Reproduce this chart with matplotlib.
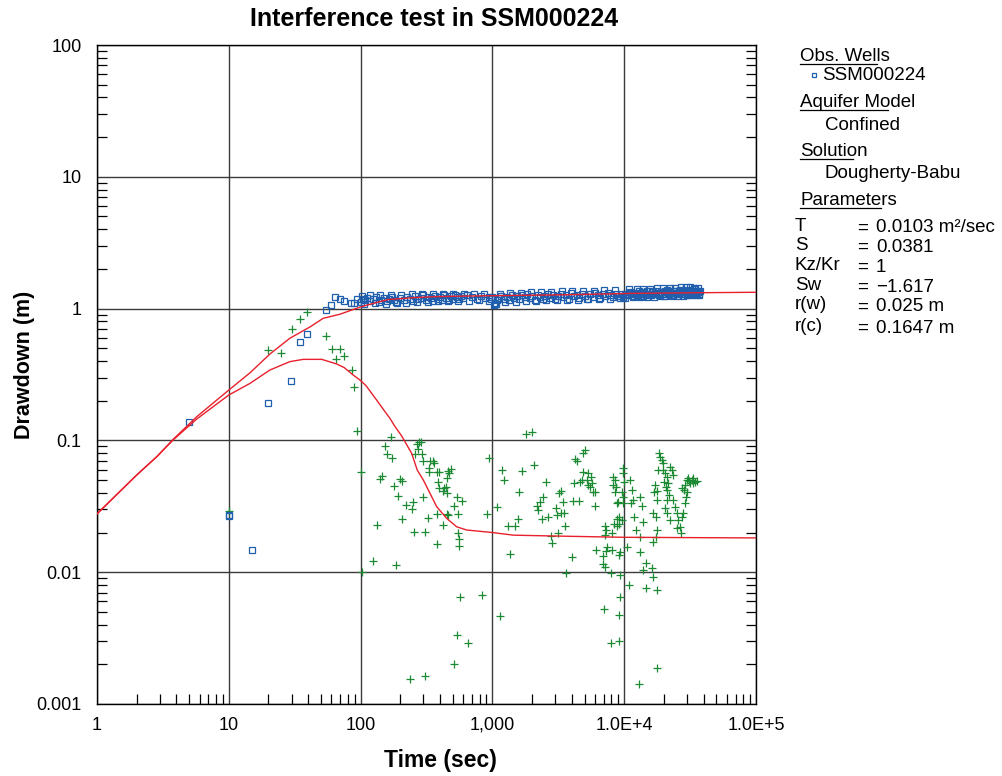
import matplotlib
matplotlib.use("Agg")
import matplotlib.pyplot as plt
from matplotlib.ticker import FixedLocator, FixedFormatter, LogLocator, NullFormatter
from matplotlib.lines import Line2D

plt.rcParams['font.family'] = ['Liberation Sans', 'DejaVu Sans']

# ---------------- data ----------------
x_ticks = [1, 10, 100, 1000, 1e4, 1e5]
x_tick_labels = ['1', '10', '100', '1,000', '1.0E+4', '1.0E+5']
y_ticks = [0.001, 0.01, 0.1, 1, 10, 100]
y_tick_labels = ['0.001', '0.01', '0.1', '1', '10', '100']

# observed drawdown (blue squares)
blue_t = [5.0, 10, 10, 14.9, 19.7, 29.8, 34.5, 39.2, 54.6, 59.6, 64.3, 69.4, 74.8, 84, 89, 94.4,
          100, 104, 108, 112, 118, 124, 130, 137, 144, 151, 158,
          165, 172, 180, 190, 200, 212, 224, 236, 248, 260, 272, 285, 298, 312, 326, 340, 355,
          370, 385, 400, 416, 432, 448, 465, 482, 500, 520, 540, 560, 580, 600, 640, 700, 760,
          820, 880, 940, 975,
          1000, 1050, 1080, 1120, 1170, 1220, 1280, 1340, 1400, 1460, 1530, 1600, 1680, 1760,
          1840, 1920, 2000, 2100, 2200, 2300, 2400, 2500, 2620, 2740, 2860, 3000, 3150, 3300,
          3450, 3600, 3780, 3950, 4150, 4350, 4550, 4750, 5000, 5250, 5500, 5750, 6000, 6300,
          6600, 6900, 7200, 7550, 7900, 8250, 8600, 9000, 9400, 9800,
          10200, 10600, 11000, 11400, 11800, 12200, 12600, 13000, 13400, 13800, 14200, 14600,
          15000, 15500, 16000, 16500, 17000, 17500, 18000, 18500, 19000, 19500, 20000, 20600,
          21200, 21800, 22400, 23000, 23600, 24200, 24800, 25400, 26000, 26600, 27200, 27800,
          28400, 29000, 29600, 30200, 30800, 31400, 32000, 32600, 33200, 33800, 34400, 35000,
          35600, 36200, 36800, 37400,
          10400, 11200, 12000, 12800, 13600, 14400, 15200, 16200, 17200, 18200, 19200, 20300,
          21500, 22700, 23900, 25100, 26300, 27500, 28700, 29900, 31100, 32300, 33500, 34700,
          35900, 37100,
          102, 107, 117, 128, 140, 155, 170, 186, 203, 222, 244, 268, 294, 322, 352, 386, 422,
          462, 505, 553, 605, 660, 725, 790, 865, 950,
          1030, 1060, 1150, 1250, 1370, 1500, 1640, 1800, 1970, 2150, 2350, 2570, 2800, 3070,
          3370, 3700, 4050, 4450, 4880, 5350, 5870, 6450, 7070, 7750, 8500, 9300,
          10100, 10800, 11600, 12400, 13200, 14000, 14800, 15700, 16700, 17700, 18700, 19700,
          20900, 22100, 23300, 24500, 25700, 26900, 28100, 29300, 30500, 31700, 32900, 34100,
          35300, 36500, 37000]
blue_d = [0.138, 0.0265, 0.027, 0.0148, 0.191, 0.282, 0.555, 0.641, 0.975, 1.065, 1.22, 1.19,
          1.148, 1.11, 1.11, 1.19,
          1.13, 1.19, 1.16, 1.21, 1.14, 1.18, 1.22, 1.12, 1.17, 1.20, 1.14,
          1.19, 1.23, 1.16, 1.11, 1.20, 1.17, 1.22, 1.19, 1.14, 1.24, 1.18, 1.21, 1.26, 1.17,
          1.23, 1.20, 1.15, 1.25, 1.19, 1.22, 1.17, 1.27, 1.21, 1.16, 1.24, 1.19, 1.26, 1.22,
          1.18, 1.25, 1.20, 1.26, 1.22, 1.18,
          1.24, 1.21, 1.23, 1.19,
          1.23, 1.10, 1.16, 1.21, 1.25, 1.19, 1.23, 1.17, 1.27, 1.21, 1.24, 1.18, 1.26, 1.22,
          1.29, 1.20, 1.24, 1.17, 1.27, 1.22, 1.19, 1.25, 1.30, 1.21, 1.26, 1.18, 1.24, 1.28,
          1.22, 1.26, 1.19, 1.31, 1.24, 1.27, 1.21, 1.29, 1.25, 1.18, 1.28, 1.23, 1.31, 1.26,
          1.20, 1.29, 1.24, 1.32, 1.27, 1.22, 1.30, 1.25, 1.28, 1.23,
          1.30, 1.26, 1.33, 1.28, 1.24, 1.31, 1.27, 1.35, 1.29, 1.25, 1.32, 1.28,
          1.36, 1.30, 1.26, 1.33, 1.29, 1.37, 1.31, 1.27, 1.34, 1.30, 1.25, 1.33,
          1.38, 1.29, 1.35, 1.31, 1.27, 1.36, 1.32, 1.28, 1.37, 1.33, 1.29, 1.39,
          1.34, 1.30, 1.36, 1.32, 1.28, 1.38, 1.34, 1.30, 1.36, 1.32, 1.40, 1.35,
          1.31, 1.37, 1.33, 1.36,
          1.27, 1.32, 1.29, 1.25, 1.34, 1.30, 1.27, 1.35, 1.31, 1.28, 1.33, 1.36,
          1.30, 1.26, 1.35, 1.31, 1.38, 1.29, 1.34, 1.27, 1.37, 1.32, 1.29, 1.36,
          1.33, 1.30,
          1.25, 1.09, 1.27, 1.10, 1.26, 1.09, 1.27, 1.12, 1.27, 1.10, 1.28, 1.12, 1.29, 1.13,
          1.29, 1.14, 1.30, 1.14, 1.30, 1.15, 1.29, 1.15, 1.30, 1.16, 1.29, 1.15,
          1.07, 1.09, 1.30, 1.12, 1.31, 1.13, 1.32, 1.14, 1.33, 1.15, 1.33, 1.16, 1.34, 1.16,
          1.35, 1.17, 1.36, 1.17, 1.37, 1.18, 1.37, 1.19, 1.38, 1.19, 1.38, 1.20,
          1.21, 1.40, 1.22, 1.41, 1.22, 1.42, 1.23, 1.42, 1.23, 1.43, 1.24, 1.43,
          1.24, 1.44, 1.25, 1.44, 1.25, 1.45, 1.25, 1.45, 1.26, 1.45, 1.26, 1.44,
          1.27, 1.43, 1.27]

# derivative data (green pluses)
green_t = [39.4, 34.7, 30, 19.7, 25, 55, 60.7, 69.5, 64.7, 74.8, 85.6, 89.6, 94, 100.7, 103, 10.1,
           152, 158, 141, 145, 133, 125,
           171, 174, 180, 199, 206, 193, 185, 207, 220, 245, 250, 256, 299, 308, 325,
           267, 276, 286, 271, 259, 291, 296,
           336, 352, 363, 332, 332, 378, 395,
           389, 396, 430, 442, 455, 424,
           450, 471, 485, 463,
           382, 420, 463, 455,
           536, 585, 514, 551,
           551, 561, 558, 382,
           905, 948, 568, 834, 536, 656, 511, 237, 308,
           1079, 1177, 1232, 1667, 1600, 1556, 1320, 1492, 1367, 1142,
           1790, 2010, 2069, 2535, 2405, 2296, 2168, 2206, 2366, 2628, 2773, 2834, 3164,
           3200, 3334, 3415, 3494, 3300, 3076, 3040, 3555, 4040, 3597,
           4110, 4563, 4181, 4620, 4810, 4410, 4233, 5040, 4843,
           4895, 5342, 5568, 5342, 5665, 5500, 5830, 6000, 5250, 6000,
           6110, 6870, 7370, 7280, 8040, 6950, 7150, 7900,
           7150, 7240, 7150, 8040, 8370, 8870, 9190, 9580, 8770, 9190,
           8280, 8510, 8180, 8670, 8770, 9020, 8570,
           9190, 9340, 9340, 9290, 9190, 9190, 7900, 7060,
           9730, 9840, 9960, 9570, 9730, 9840,
           11070, 11400, 11200, 11720, 11870, 12280, 13180, 13570, 13970, 13180, 10560, 10940,
           13180, 14640, 13970, 14640, 13030, 17830,
           16440, 17420, 17820, 16440, 16170, 16440, 17830,
           17130, 17650, 16830, 17650, 17420, 18150, 18460, 18700, 19270, 19820, 19820, 20400,
           21000, 20050, 20760, 21620, 22250, 22930, 23580, 21240, 21990, 21000, 20400, 21240,
           22250, 23580, 24270, 25000, 25740, 26500, 26840, 25300, 27300, 28100, 28920, 29440,
           29810, 28440,
           30640, 32500, 34450, 31570, 33440, 31190, 33030, 35480, 29810, 28920, 27300]
green_d = [0.946, 0.83, 0.70, 0.485, 0.458, 0.62, 0.49, 0.49, 0.417, 0.435, 0.342, 0.256, 0.118,
           0.058, 0.0100, 0.0293,
           0.0907, 0.0793, 0.051, 0.054, 0.0229, 0.0121,
           0.1067, 0.0739, 0.0453, 0.0507, 0.0492, 0.038, 0.0114, 0.0252, 0.0324, 0.030, 0.0343,
           0.0201, 0.0374, 0.0201, 0.0259,
           0.094, 0.0977, 0.0977, 0.0865, 0.0789, 0.0789, 0.0702,
           0.0702, 0.0702, 0.067, 0.0614, 0.0573, 0.0573, 0.0573,
           0.0486, 0.0433, 0.0433, 0.0446, 0.0397, 0.0413,
           0.0516, 0.0563, 0.0604, 0.0589,
           0.0275, 0.0228, 0.0272, 0.0277,
           0.0374, 0.0349, 0.0318, 0.0275,
           0.0197, 0.0179, 0.0158, 0.0165,
           0.0275, 0.0739, 0.00652, 0.00675, 0.00336, 0.00289, 0.0020, 0.00156, 0.00163,
           0.0311, 0.0596, 0.0501, 0.0589, 0.0404, 0.0252, 0.0224, 0.0224, 0.0137, 0.00468,
           0.1118, 0.1158, 0.065, 0.0486, 0.0374, 0.0343, 0.0318, 0.0297, 0.0252, 0.0264,
           0.0188, 0.0166, 0.0200,
           0.0401, 0.0415, 0.0343, 0.0283, 0.0283, 0.0272, 0.0305, 0.0224, 0.0130, 0.00986,
           0.0349, 0.0349, 0.0478, 0.0486, 0.0501, 0.0702, 0.0727, 0.0846, 0.0798,
           0.0573, 0.0569, 0.0531, 0.0459, 0.0478, 0.0446, 0.0408, 0.0408, 0.0501, 0.0318,
           0.0147, 0.0133, 0.0156, 0.0146, 0.0147, 0.0115, 0.0110, 0.0098,
           0.0224, 0.0209, 0.0191, 0.0200, 0.0232, 0.0252, 0.0233, 0.0249, 0.0224, 0.0264,
           0.0531, 0.0501, 0.0459, 0.0446, 0.0337, 0.0343, 0.0408,
           0.0135, 0.0143, 0.00953, 0.00652, 0.00473, 0.00302, 0.00292, 0.00523,
           0.0614, 0.0563, 0.0486, 0.0408, 0.037, 0.0333,
           0.0501, 0.0420, 0.0333, 0.0353, 0.0261, 0.0209, 0.037, 0.0318, 0.0242, 0.0186, 0.0155,
           0.0080, 0.0143, 0.0117, 0.0104, 0.00755, 0.00142, 0.00187,
           0.0170, 0.0184, 0.0209, 0.028, 0.0107, 0.00925, 0.00733,
           0.0459, 0.0415, 0.0408, 0.0353, 0.0264, 0.0596, 0.0798, 0.0752, 0.071, 0.067, 0.0596,
           0.0563, 0.0531, 0.0486, 0.0446, 0.0473, 0.0631, 0.0596, 0.0546, 0.0420, 0.0385,
           0.0353, 0.0305, 0.028, 0.0249, 0.0353, 0.0314, 0.028, 0.0249, 0.0221, 0.0200, 0.0215,
           0.0264, 0.028, 0.0333, 0.0374, 0.0408, 0.0420,
           0.0516, 0.0501, 0.0486, 0.0473, 0.0516, 0.0494, 0.0479, 0.0492, 0.0501, 0.0459, 0.0433]

# fitted type curve (Dougherty-Babu) and its derivative
fit_t = [1, 2, 2.84, 3.79, 5.7, 10, 14.5, 20.5, 29, 41.6, 52, 69.6, 100, 160, 250, 356, 500,
         1016, 3660, 11750, 37600, 1e5]
fit_d = [0.0277, 0.0546, 0.0752, 0.102, 0.151, 0.241, 0.326, 0.452, 0.595, 0.729, 0.844, 0.906,
         1.03, 1.17, 1.21, 1.231, 1.24, 1.253, 1.274, 1.305, 1.32, 1.33]
deriv_t = [1, 2, 2.84, 3.79, 5.7, 10, 14.5, 20.5, 29.1, 36.7, 50.7, 65.9, 75, 88, 99, 110, 132,
           150, 167, 180, 205, 244, 269, 299, 378, 450, 536, 638, 998, 1442, 3076, 9840, 1e5]
deriv_d = [0.0277, 0.0546, 0.0752, 0.101, 0.145, 0.221, 0.271, 0.342, 0.396, 0.412, 0.412, 0.380,
           0.357, 0.313, 0.287, 0.260, 0.203, 0.170, 0.147, 0.130, 0.108, 0.0798, 0.0596,
           0.0501, 0.0314, 0.0256, 0.0221, 0.0209, 0.0200, 0.0191, 0.0188, 0.0184, 0.0182]

param_names = ['T', 'S', 'Kz/Kr', 'Sw', 'r(w)', 'r(c)']
param_values = ['0.0103 m²/sec', '0.0381', '1', '\u22121.617', '0.025 m', '0.1647 m']

# ---------------- figure ----------------
W, H = 1002, 776
fig = plt.figure(figsize=(W / 100, H / 100), dpi=100)
ax = fig.add_axes([97 / W, 1 - 704 / H, (756 - 97) / W, (704 - 45) / H])

BLUE = '#1f5fae'
GREEN = '#1c8a32'
RED = '#e8202c'

ax.set_xscale('log')
ax.set_yscale('log')
ax.set_xlim(1, 1e5)
ax.set_ylim(0.001, 100)

ax.plot(green_t, green_d, linestyle='none', marker='+', color=GREEN, markersize=6,
        markeredgewidth=0.9, zorder=3)
ax.plot(blue_t, blue_d, linestyle='none', marker='s', markerfacecolor='none',
        markeredgecolor=BLUE, markersize=4.0, markeredgewidth=0.9, zorder=4)
ax.plot(fit_t, fit_d, color=RED, lw=1.0, zorder=5)
ax.plot(deriv_t, deriv_d, color=RED, lw=1.0, zorder=5)

# ticks
ax.xaxis.set_major_locator(FixedLocator(x_ticks))
ax.xaxis.set_major_formatter(FixedFormatter(x_tick_labels))
ax.yaxis.set_major_locator(FixedLocator(y_ticks))
ax.yaxis.set_major_formatter(FixedFormatter(y_tick_labels))
ax.xaxis.set_minor_locator(LogLocator(base=10, subs=range(2, 10), numticks=20))
ax.yaxis.set_minor_locator(LogLocator(base=10, subs=range(2, 10), numticks=20))
ax.xaxis.set_minor_formatter(NullFormatter())
ax.yaxis.set_minor_formatter(NullFormatter())
ax.tick_params(axis='both', which='both', direction='in', color='black')
ax.tick_params(axis='x', which='major', length=0, pad=9, labelsize=13)
ax.tick_params(axis='y', which='major', length=0, pad=11, labelsize=13)
ax.tick_params(axis='x', which='minor', length=7, width=0.9, bottom=True, top=False)
ax.tick_params(axis='y', which='minor', length=7, width=0.9, left=True, right=True)

ax.grid(True, which='major', color='#3a3a3a', lw=1.0)
ax.set_axisbelow(True)
for s in ax.spines.values():
    s.set_color('black')
    s.set_linewidth(1.0)

# titles
fig.text(434 / W, 1 - 19 / H, 'Interference test in SSM000224', ha='center', va='center',
         fontsize=18, fontweight='bold')
fig.text(440 / W, 1 - 760 / H, 'Time (sec)', ha='center', va='center',
         fontsize=16.5, fontweight='bold')
fig.text(25 / W, 1 - 365 / H, 'Drawdown (m)', ha='center', va='center', rotation=90,
         fontsize=15.5, fontweight='bold')

# legend panel
renderer = fig.canvas.get_renderer()


def heading(x, y, s, frac):
    t = fig.text(x / W, 1 - y / H, s, ha='left', va='baseline', fontsize=13.5)
    bb = t.get_window_extent(renderer=renderer)
    x0 = bb.x0
    x1 = bb.x0 + frac * bb.width
    yy = (1 - y / H) * H - 2.5
    fig.add_artist(Line2D([x0 / W, x1 / W], [yy / H, yy / H], color='black', lw=0.9,
                          transform=fig.transFigure))


heading(800, 61, 'Obs. Wells', 0.86)
fig.add_artist(Line2D([814 / W], [1 - 75 / H], marker='s', markersize=3.2,
                      markerfacecolor='none', markeredgecolor=BLUE, markeredgewidth=0.9,
                      transform=fig.transFigure))
fig.text(822 / W, 1 - 75 / H, 'SSM000224', ha='left', va='center', fontsize=13.5)
heading(800, 107, 'Aquifer Model', 0.76)
fig.text(825 / W, 1 - 126 / H, 'Confined', ha='left', va='center', fontsize=13.5)
heading(800, 156, 'Solution', 0.79)
fig.text(825 / W, 1 - 174 / H, 'Dougherty-Babu', ha='left', va='center', fontsize=13.5)
heading(800, 205, 'Parameters', 0.84)

row_y = [226, 245, 265, 285, 305, 326]
for name, val, yy in zip(param_names, param_values, row_y):
    fig.text(795 / W, 1 - yy / H, name, ha='left', va='center', fontsize=13.5)
    fig.text(857 / W, 1 - (yy + 2) / H, '=', ha='left', va='center', fontsize=13.5)
    fig.text(876 / W, 1 - (yy + 2) / H, val, ha='left', va='center', fontsize=13.5)

fig.savefig('out.png', dpi=100)
